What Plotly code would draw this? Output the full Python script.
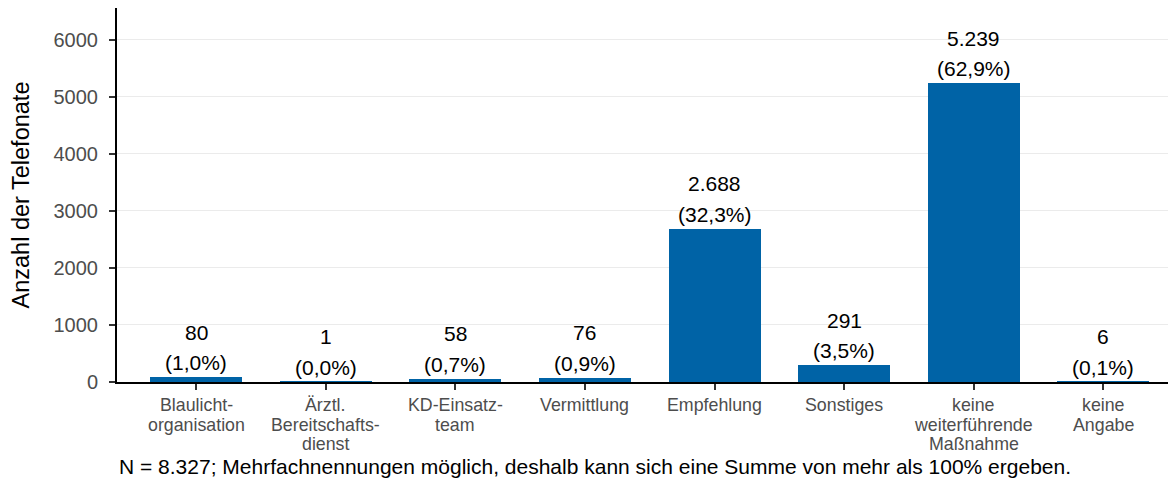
import plotly.graph_objects as go

categories = ["Blaulicht-<br>organisation", "Ärztl.<br>Bereitschafts-<br>dienst", "KD-Einsatz-<br>team",
              "Vermittlung", "Empfehlung", "Sonstiges", "keine<br>weiterführende<br>Maßnahme", "keine<br>Angabe"]
counts = [80, 1, 58, 76, 2688, 291, 5239, 6]
count_labels = ["80", "1", "58", "76", "2.688", "291", "5.239", "6"]
pct_labels = ["(1,0%)", "(0,0%)", "(0,7%)", "(0,9%)", "(32,3%)", "(3,5%)", "(62,9%)", "(0,1%)"]
yticks = [0, 1000, 2000, 3000, 4000, 5000, 6000]
footnote = "N = 8.327; Mehrfachnennungen möglich, deshalb kann sich eine Summe von mehr als 100% ergeben."

xs = list(range(len(categories)))
FONT = "Liberation Sans, Arial, sans-serif"

# page body has an 8px margin, so the figure is sized/offset to compensate
W, H = 1168, 477
L, R, T, B = 109, 0, 0, 103
pw, ph = W - L - R, H - T - B

fig = go.Figure()
fig.add_trace(go.Bar(x=xs, y=counts, width=0.71, marker=dict(color="#0063A6", line=dict(width=0)),
                     hoverinfo="skip"))

annotations = []
for x, v, c, p in zip(xs, counts, count_labels, pct_labels):
    annotations.append(dict(x=x, y=v, xref="x", yref="y", text=p, showarrow=False,
                            yanchor="middle", yshift=14.5, font=dict(family=FONT, size=21, color="black")))
    annotations.append(dict(x=x, y=v, xref="x", yref="y", text=c, showarrow=False,
                            yanchor="middle", yshift=45, font=dict(family=FONT, size=21, color="black")))
# category labels, one annotation per line for tighter line spacing
for x, cat in zip(xs, categories):
    for i, line in enumerate(cat.split("<br>")):
        annotations.append(dict(x=x, y=0, xref="x", yref="paper", text=line, showarrow=False,
                                yanchor="middle", yshift=-23 - 19.5 * i,
                                font=dict(family=FONT, size=17.8, color="#4d4d4d")))
annotations.append(dict(x=(109 - L) / pw, y=(H - 458 - B) / ph, xref="paper", yref="paper", text=footnote,
                        showarrow=False, xanchor="left", yanchor="middle",
                        font=dict(family=FONT, size=21, color="black")))

fig.update_layout(
    width=W, height=H,
    margin=dict(l=L, r=R, t=T, b=B, pad=0),
    plot_bgcolor="white", paper_bgcolor="white",
    showlegend=False,
    font=dict(family=FONT),
    annotations=annotations,
    bargap=0,
    xaxis=dict(
        range=[-0.61, 7.56], tickmode="array", tickvals=xs, ticktext=[""] * len(xs),
        showgrid=False, zeroline=False, showline=True, linecolor="black", linewidth=2,
        ticks="outside", ticklen=6, tickwidth=2, tickcolor="#333333",
        tickfont=dict(family=FONT, size=16, color="#4d4d4d"), tickangle=0,
    ),
    yaxis=dict(
        range=[0, 6560], tickmode="array", tickvals=yticks, ticktext=[str(t) for t in yticks],
        showgrid=True, gridcolor="#ebebeb", gridwidth=1, zeroline=False,
        showline=True, linecolor="black", linewidth=2,
        ticks="outside", ticklen=6, tickwidth=2, tickcolor="#333333", ticklabelstandoff=7,
        tickfont=dict(family=FONT, size=20, color="#4d4d4d"),
        title=dict(text="Anzahl der Telefonate", font=dict(family=FONT, size=23.5, color="black"), standoff=19),
    ),
)

fig.write_html("out.html")
